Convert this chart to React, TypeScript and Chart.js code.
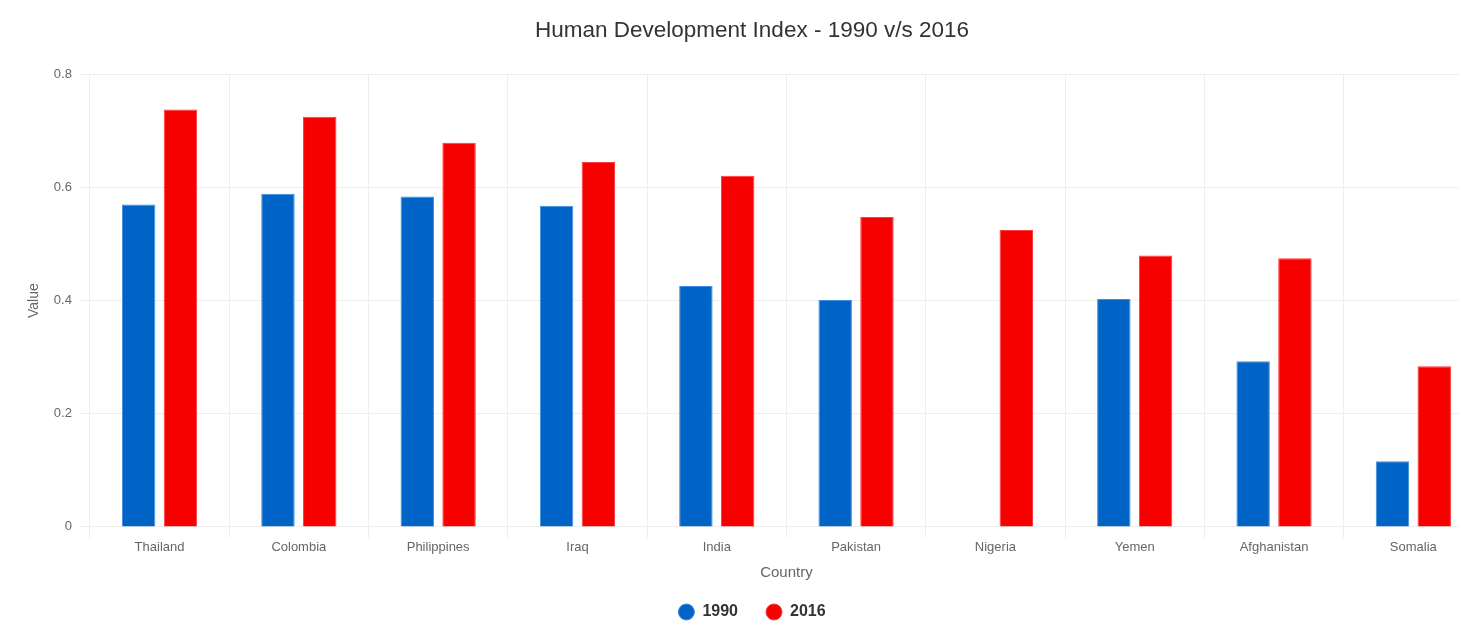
import React, { useEffect, useRef } from "react";
import { Chart, registerables } from "chart.js";

Chart.register(...registerables);

// Human Development Index values per country
const countries = [
  "Thailand",
  "Colombia",
  "Philippines",
  "Iraq",
  "India",
  "Pakistan",
  "Nigeria",
  "Yemen",
  "Afghanistan",
  "Somalia",
];
const hdi1990: (number | null)[] = [0.57, 0.589, 0.584, 0.568, 0.426, 0.401, null, 0.403, 0.293, 0.116];
const hdi2016: number[] = [0.738, 0.725, 0.679, 0.645, 0.621, 0.548, 0.525, 0.48, 0.475, 0.284];
const yTicks = [0, 0.2, 0.4, 0.6, 0.8];

const FONT = "'Liberation Sans', Arial, sans-serif";
const GRID = "#eeeeee";

export default function App() {
  const canvasRef = useRef<HTMLCanvasElement | null>(null);

  useEffect(() => {
    const canvas = canvasRef.current;
    if (!canvas) return;
    const chart = new Chart(canvas, {
      type: "bar",
      data: {
        labels: countries,
        datasets: [
          {
            label: "1990",
            data: hdi1990,
            backgroundColor: "#0063c6",
            borderColor: "#3d8ee0",
            borderWidth: 1,
            categoryPercentage: 0.6,
            barPercentage: 0.8,
          },
          {
            label: "2016",
            data: hdi2016,
            backgroundColor: "#f60000",
            borderColor: "#ff3b3b",
            borderWidth: 1,
            categoryPercentage: 0.6,
            barPercentage: 0.8,
          },
        ],
      },
      options: {
        responsive: false,
        animation: false,
        devicePixelRatio: 1,
        layout: { padding: { left: 13, right: 11, top: 0, bottom: 0 } },
        plugins: {
          title: {
            display: true,
            text: "Human Development Index - 1990 v/s 2016",
            color: "#333333",
            font: { family: FONT, size: 22.5, weight: "normal" },
            padding: { top: 9, bottom: 30.4 },
          },
          legend: {
            position: "bottom",
            labels: {
              usePointStyle: true,
              pointStyle: "circle",
              boxWidth: 16,
              boxHeight: 11.3,
              color: "#333333",
              font: { family: FONT, size: 16, weight: "bold" },
              padding: 28,
            },
          },
          tooltip: { enabled: false },
        },
        scales: {
          x: {
            grid: { color: GRID, tickLength: 11, offset: true },
            border: { display: false },
            ticks: { color: "#666666", font: { family: FONT, size: 13 }, padding: 2 },
            title: {
              display: true,
              text: "Country",
              color: "#666666",
              font: { family: FONT, size: 15 },
              padding: { top: 6, bottom: -5.5 },
            },
          },
          y: {
            min: 0,
            max: 0.8,
            afterBuildTicks: (axis: any) => {
              axis.ticks = yTicks.map((v) => ({ value: v }));
            },
            grid: { color: GRID, tickLength: 11 },
            border: { display: false },
            ticks: { color: "#666666", font: { family: FONT, size: 13 }, padding: 7 },
            title: {
              display: true,
              text: "Value",
              color: "#666666",
              font: { family: FONT, size: 14 },
              padding: { top: 5, bottom: 4 },
            },
          },
        },
      },
    });
    return () => chart.destroy();
  }, []);

  return (
    <div style={{ width: 1459, overflow: "hidden" }}>
      <canvas ref={canvasRef} width={1486} height={622} style={{ display: "block", width: 1486, height: 622 }} />
    </div>
  );
}
